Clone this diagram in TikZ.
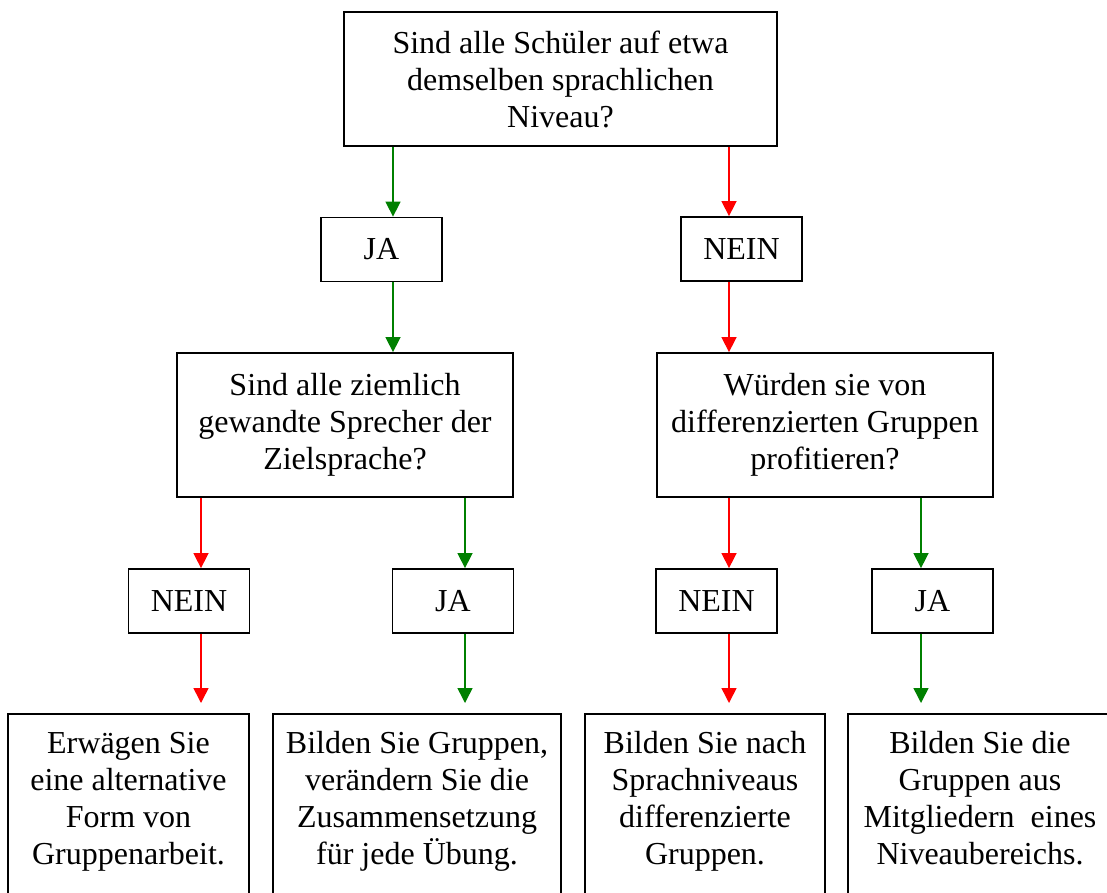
\documentclass[tikz,border=0pt]{standalone}
\usepackage{fontspec}
\setmainfont{Liberation Serif}
\usetikzlibrary{arrows.meta}

\begin{document}
\begin{tikzpicture}[x=1pt, y=-1pt,
  every node/.style = {shape=rectangle, draw, line width=1.8pt, align=center,
    inner sep=0pt, font=\fontsize{32}{37}\selectfont},
  small/.style = {minimum width=121pt, minimum height=64pt},
  big/.style = {minimum width=336pt, minimum height=144pt},
  result/.style = {anchor=north, text height=135pt, text depth=200pt, inner ysep=16pt},
  jaarrow/.style = {draw=green!50!black, line width=1.5pt, -{Triangle[width=15pt,length=15pt]}},
  neinarrow/.style = {jaarrow, draw=red}]
  \useasboundingbox (0,0) rectangle (1107,892);
  \clip (0,0) rectangle (1107,892);
  \node [minimum width=433pt, minimum height=134pt] (root) at (560.5,79)
    {Sind alle Schüler auf etwa\\demselben sprachlichen\\Niveau?};
  \node [small] (ja) at (381.5,249.5) {JA};
  \node [small] (nein) at (741.5,249) {NEIN};
  \node [big] (q2) at (345,425) {Sind alle ziemlich\\gewandte Sprecher der\\Zielsprache?};
  \node [big] (q3) at (825,425) {Würden sie von\\differenzierten Gruppen\\profitieren?};
  \node [small] (nein2) at (189,601) {NEIN};
  \node [small] (ja2) at (453,601) {JA};
  \node [small] (nein3) at (716.5,601) {NEIN};
  \node [small] (ja3) at (932.5,601) {JA};
  \node [result, minimum width=241pt] (r1) at (128.5,713)
    {Erwägen Sie\\eine alternative\\Form von\\Gruppenarbeit.};
  \node [result, minimum width=288pt] (r2) at (417,713)
    {Bilden Sie Gruppen,\\verändern Sie die\\Zusammensetzung\\für jede Übung.};
  \node [result, minimum width=240pt] (r3) at (705,713)
    {Bilden Sie nach\\Sprachniveaus\\differenzierte\\Gruppen.};
  \node [result, minimum width=264pt] (r4) at (980,713)
    {Bilden Sie die\\Gruppen aus\\Mitgliedern\ \ eines\\Niveaubereichs.};
  \draw [jaarrow] (root.south -| 393,0) -- (ja.north -| 393,0);
  \draw [jaarrow] (ja.south -| 393,0) -- (q2.north -| 393,0);
  \draw [neinarrow] (root.south -| 729,0) -- (nein.north -| 729,0);
  \draw [neinarrow] (nein.south -| 729,0) -- (q3.north -| 729,0);
  \draw [neinarrow] (q2.south -| 201,0) -- (nein2.north -| 201,0);
  \draw [jaarrow] (q2.south -| 465,0) -- (ja2.north -| 465,0);
  \draw [neinarrow] (q3.south -| 729,0) -- (nein3.north -| 729,0);
  \draw [jaarrow] (q3.south -| 921,0) -- (ja3.north -| 921,0);
  \draw [neinarrow, shorten >=10pt] (nein2.south -| 201,0) -- (r1.north -| 201,0);
  \draw [jaarrow, shorten >=10pt] (ja2.south -| 465,0) -- (r2.north -| 465,0);
  \draw [neinarrow, shorten >=10pt] (nein3.south -| 729,0) -- (r3.north -| 729,0);
  \draw [jaarrow, shorten >=10pt] (ja3.south -| 921,0) -- (r4.north -| 921,0);
\end{tikzpicture}
\end{document}
